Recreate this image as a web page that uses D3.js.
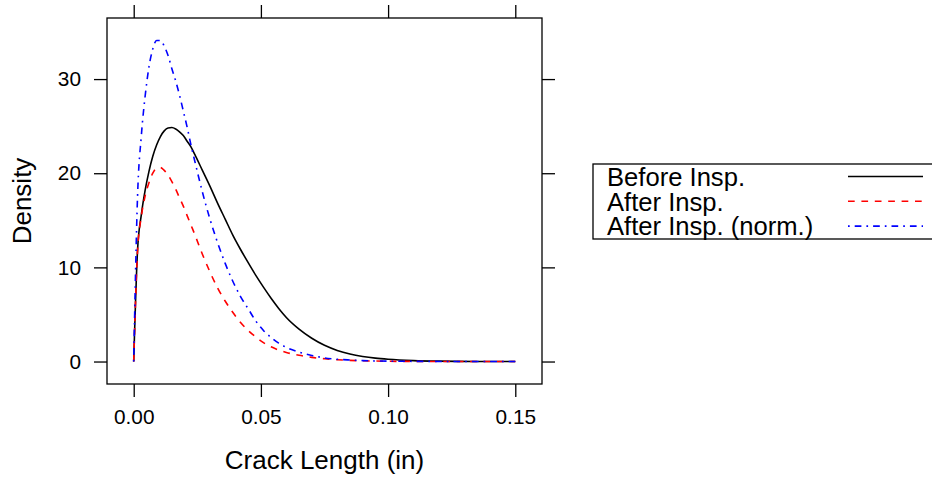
<!DOCTYPE html>
<html>
<head>
<meta charset="utf-8">
<script src="https://cdn.jsdelivr.net/npm/d3@7"></script>
<style>
  html, body { margin: 0; padding: 0; background: #fff; }
  svg { display: block; font-family: "Liberation Sans", Arial, Helvetica, sans-serif; }
</style>
</head>
<body>
<svg id="chart" width="932" height="478"></svg>
<script>
// Crack length grid (in)
const crackLength = [0, 0.0015, 0.003, 0.0045, 0.006, 0.0075, 0.009, 0.0105, 0.012, 0.0135,
  0.015, 0.0165, 0.018, 0.0195, 0.021, 0.0225, 0.024, 0.027, 0.030, 0.033,
  0.036, 0.039, 0.042, 0.045, 0.048, 0.051, 0.054, 0.057, 0.060, 0.065,
  0.070, 0.075, 0.080, 0.085, 0.090, 0.095, 0.100, 0.110, 0.120, 0.135, 0.150];

// Density before inspection
const densityBefore = [0, 11.8, 15.6, 18.2, 20.2, 21.8, 23.0, 23.9, 24.5, 24.8,
  24.85, 24.7, 24.4, 24.0, 23.4, 22.8, 22.0, 20.3, 18.6, 16.8,
  15.1, 13.4, 11.9, 10.5, 9.15, 7.9, 6.72, 5.64, 4.68, 3.44,
  2.47, 1.72, 1.18, 0.80, 0.54, 0.36, 0.24, 0.10, 0.04, 0.01, 0];

// Density after inspection
const densityAfter = [0, 11.7, 15.4, 17.6, 19.0, 20.0, 20.55, 20.6, 20.3, 19.8,
  19.1, 18.3, 17.4, 16.5, 15.5, 14.5, 13.5, 11.4, 9.5, 7.8,
  6.4, 5.2, 4.15, 3.3, 2.6, 2.0, 1.56, 1.22, 0.96, 0.66,
  0.44, 0.29, 0.19, 0.12, 0.08, 0.05, 0.03, 0.01, 0.005, 0, 0];

// Density after inspection, renormalised
const densityAfterNorm = [0, 17.5, 24.0, 28.2, 31.3, 33.2, 34.1, 34.1, 33.5, 32.5,
  31.1, 29.8, 28.3, 26.6, 24.9, 23.0, 21.3, 18.0, 15.1, 12.6,
  10.4, 8.5, 6.9, 5.6, 4.3, 3.3, 2.55, 1.95, 1.5, 1.0,
  0.65, 0.38, 0.24, 0.16, 0.10, 0.06, 0.04, 0.02, 0.01, 0, 0];

const seriesNames = ["Before Insp.", "After Insp.", "After Insp. (norm.)"];
const seriesColors = ["#000000", "#ff0000", "#0000ff"];
const seriesDashes = [null, "6.7,6.7", "1.7,5,6.7,5"];
const seriesValues = [densityBefore, densityAfter, densityAfterNorm];

const xTicks = [0, 0.05, 0.10, 0.15];
const yTicks = [0, 10, 20, 30];
const xLabel = "Crack Length (in)";
const yLabel = "Density";

const svg = d3.select("#chart");
const panel = { left: 107, top: 18, right: 542, bottom: 384 };

// Panel limits padded around the data range
const xExt = d3.extent(crackLength);
const yMax = d3.max(seriesValues.flat());
const xPad = 0.07 * (xExt[1] - xExt[0]);
const yPad = 0.07 * yMax;
const x = d3.scaleLinear().domain([xExt[0] - xPad, xExt[1] + xPad]).range([panel.left, panel.right]);
const y = d3.scaleLinear().domain([-yPad, yMax + yPad]).range([panel.bottom, panel.top]);

const tickLen = 13;
function styleAxis(g) {
  g.select(".domain").remove();
  g.selectAll(".tick line").attr("stroke", "#000").attr("stroke-width", 1.3);
  g.selectAll(".tick text").attr("fill", "#000").style("font-size", "20.8px");
}

svg.append("g").attr("transform", `translate(0,${panel.bottom})`)
  .call(d3.axisBottom(x).tickValues(xTicks).tickFormat(d3.format(".2f")).tickSize(tickLen).tickPadding(12.5))
  .call(styleAxis);
svg.append("g").attr("transform", `translate(0,${panel.top})`)
  .call(d3.axisTop(x).tickValues(xTicks).tickFormat("").tickSize(tickLen))
  .call(styleAxis);
svg.append("g").attr("transform", `translate(${panel.left},0)`)
  .call(d3.axisLeft(y).tickValues(yTicks).tickFormat(d3.format("d")).tickSize(tickLen).tickPadding(13))
  .call(styleAxis);
svg.append("g").attr("transform", `translate(${panel.right},0)`)
  .call(d3.axisRight(y).tickValues(yTicks).tickFormat("").tickSize(tickLen))
  .call(styleAxis);

svg.append("rect")
  .attr("x", panel.left).attr("y", panel.top)
  .attr("width", panel.right - panel.left).attr("height", panel.bottom - panel.top)
  .attr("fill", "none").attr("stroke", "#000").attr("stroke-width", 1.3);

// Density curves
const line = d3.line().curve(d3.curveMonotoneX);
seriesValues.forEach((vals, i) => {
  const pts = crackLength.map((c, j) => [x(c), y(vals[j])]);
  svg.append("path")
    .attr("d", line(pts))
    .attr("fill", "none")
    .attr("stroke", seriesColors[i])
    .attr("stroke-width", 1.6)
    .attr("stroke-dasharray", seriesDashes[i]);
});

// Axis titles
svg.append("text")
  .attr("x", (panel.left + panel.right) / 2).attr("y", 469)
  .attr("text-anchor", "middle").style("font-size", "26px").text(xLabel);
svg.append("text")
  .attr("transform", `translate(31,${(panel.top + panel.bottom) / 2}) rotate(-90)`)
  .attr("text-anchor", "middle").style("font-size", "26px").text(yLabel);

// Legend
const legend = svg.append("g");
legend.append("rect")
  .attr("x", 593).attr("y", 164).attr("width", 360).attr("height", 75)
  .attr("fill", "none").attr("stroke", "#000").attr("stroke-width", 1.3);
seriesNames.forEach((name, i) => {
  const cy = 176.5 + i * 24.8;
  legend.append("text")
    .attr("x", 607).attr("y", cy + 9.2)
    .style("font-size", "25.6px").text(name);
  legend.append("line")
    .attr("x1", 848).attr("x2", 923).attr("y1", cy).attr("y2", cy)
    .attr("stroke", seriesColors[i]).attr("stroke-width", 1.6)
    .attr("stroke-dasharray", seriesDashes[i]);
});
</script>
</body>
</html>
